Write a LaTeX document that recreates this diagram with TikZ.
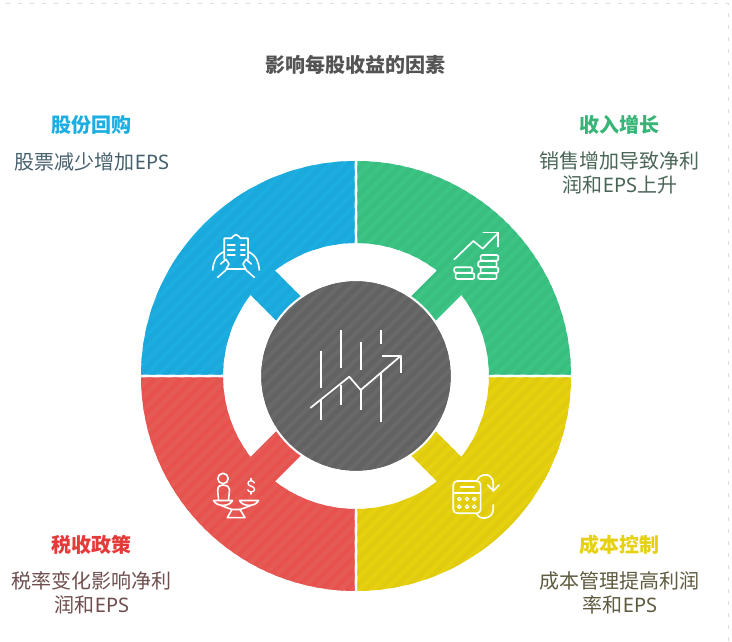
\documentclass[tikz,border=0pt]{standalone}
\usepackage{fontspec}
\setmainfont{Noto Sans CJK SC}
\newfontfamily\latn{Noto Sans}
\newcommand{\EPS}{{\latn EPS}}
\definecolor{cBlue}{HTML}{1CAEE0}\definecolor{cBlueS}{HTML}{1BA8DA}
\definecolor{cGreen}{HTML}{3BC483}\definecolor{cGreenS}{HTML}{39BE7F}
\definecolor{cYellow}{HTML}{E6D10F}\definecolor{cYellowS}{HTML}{E0CB0E}
\definecolor{cRed}{HTML}{E8524E}\definecolor{cRedS}{HTML}{E65A56}
\definecolor{cGrey}{HTML}{696969}\definecolor{cGreyS}{HTML}{626262}
\definecolor{tBlue}{HTML}{46606E}\definecolor{tGreen}{HTML}{4A6657}
\definecolor{tYellow}{HTML}{5F5B3F}\definecolor{tRed}{HTML}{704E4E}
\definecolor{hRedC}{HTML}{E53A38}\definecolor{hGreenC}{HTML}{36B577}
\newcommand{\stripes}[2]{%
  \fill[#1] (-300,-300) rectangle (300,300);
  \foreach \k in {-50,...,50}{
    \fill[#2] ({\k*13-400},-400) -- ({\k*13-393.5},-400) -- ({\k*13+406.5},400) -- ({\k*13+400},400) -- cycle;
  }}
% #1 rotation, #2 base, #3 stripe
\newcommand{\ringsector}[3]{%
  \begin{scope}[rotate=#1]
    \clip (1.3,133) -- (1.3,215) arc (89.65:0.35:215) -- (133,1.3)
      arc (0.56:{45-\na}:133) -- (\pbx,\pby) -- (\qbx,\qby) -- (\qax,\qay)
      arc ({45+\na}:89.44:133) -- cycle;
    \begin{scope}[rotate=-#1]\stripes{#2}{#3}\end{scope}
  \end{scope}}
\tikzset{
  titletext/.style={font=\fontsize{20}{24}\selectfont\bfseries,text=black!67,anchor=center,inner sep=0pt},
  headtext/.style={font=\fontsize{20}{24}\selectfont\bfseries,anchor=center,inner sep=0pt},
  desctext/.style={font=\fontsize{20}{24}\selectfont,anchor=center,align=center,inner sep=0pt},
  px/.style={x=1pt,y=-1pt,shift={(-356pt,376pt)}},
  ic/.style={draw=white,line width=1.6pt,line cap=round,line join=round},
  framedash/.style={draw=black!13,line width=0.9pt,dash pattern=on 4pt off 8pt}
}
\begin{document}
\begin{tikzpicture}[x=1pt,y=1pt]
\useasboundingbox (-356,-266) rectangle (376,376);
\fill[white] (-356,-266) rectangle (376,376);
\pgfmathsetmacro{\na}{asin(17.2/133)}
\pgfmathsetmacro{\pax}{133*cos(45-\na)}\pgfmathsetmacro{\pay}{133*sin(45-\na)}
\pgfmathsetmacro{\qax}{133*cos(45+\na)}\pgfmathsetmacro{\qay}{133*sin(45+\na)}
\pgfmathsetmacro{\pbx}{\pax-42}\pgfmathsetmacro{\pby}{\pay-42}
\pgfmathsetmacro{\qbx}{\qax-42}\pgfmathsetmacro{\qby}{\qay-42}
\ringsector{0}{cGreen}{cGreenS}
\ringsector{90}{cBlue}{cBlueS}
\ringsector{180}{cRed}{cRedS}
\ringsector{270}{cYellow}{cYellowS}
\begin{scope}
  \clip (0,0) circle (95);
  \stripes{cGrey}{cGreyS}
\end{scope}
\draw[white,line width=2pt] (0,0) circle (96);
\begin{scope}[px]
  % faint dashed page frame
  \draw[framedash] (6,3.5) -- (728.5,3.5) -- (728.5,642);
  % texts
  \node[titletext] (title) at (356,64.5) {影响每股收益的因素};
  \node[headtext,text=cBlue] (hBlue) at (92,124.5) {股份回购};
  \node[desctext,text=tBlue] (dBlue) at (92,161.5) {股票减少增加\EPS};
  \node[headtext,text=hGreenC] (hGreen) at (620,124.5) {收入增长};
  \node[desctext,text=tGreen] (dGreen) at (620,172.5) {销售增加导致净利\\润和\EPS{}上升};
  \node[headtext,text=cYellow] (hYellow) at (620,544.5) {成本控制};
  \node[desctext,text=tYellow] (dYellow) at (620,592.5) {成本管理提高利润\\率和\EPS};
  \node[headtext,text=hRedC] (hRed) at (92,544.5) {税收政策};
  \node[desctext,text=tRed] (dRed) at (92,592.5) {税率变化影响净利\\润和\EPS};
  % centre icon
  \draw[ic,line width=1.7pt,line cap=butt]
    (320.7,350.7)--(320.7,387.7) (320.7,399)--(320.7,420)
    (340.7,330)--(340.7,367.7) (340.7,385)--(340.7,405)
    (360.7,342.3)--(360.7,370) (360.7,390)--(360.7,410)
    (380.7,330)--(380.7,344.3) (380.7,373.3)--(380.7,421.7);
  \draw[ic,line width=1.7pt] (310.7,407.7)--(349.3,376.7)--(360.7,390)--(400.7,356);
  \draw[ic,line width=1.7pt,line cap=butt] (382.3,356)--(401,356)--(401,373.3);
  % blue icon
  \draw[ic] (224.3,259)--(224.3,238.3)--(231.5,238.3)
     .. controls (233,238) and (233,234.5) .. (236,234.5)
     .. controls (239,234.5) and (239,238) .. (240.5,238.3)
     --(248,238.3)--(248,259);
  \draw[ic] (226.7,269.3)--(245.3,269.3);
  \draw[ic,line width=1.3pt] (227.5,245)--(235,245) (227.5,250)--(235,250) (227.5,255)--(235,255)
     (240.7,245)--(245,245) (240.7,250)--(245,250) (240.7,255)--(245,255);
  \draw[ic] (212.7,270) .. controls (213.5,262) and (215,256) .. (224.3,251.5);
  \draw[ic] (220.7,264)--(226,259.3)--(229,264)--(225.5,270.5)--(217.7,277.3);
  \draw[ic] (259.3,270) .. controls (258.5,262) and (257,256) .. (248,251.5);
  \draw[ic] (251.3,264)--(246,259.3)--(243,264)--(246.5,270.5)--(254.3,277.3);
  % green icon
  \draw[ic] (454.3,259.3)--(473.3,241)--(482.7,248.7)--(498.3,233);
  \draw[ic] (483.3,232.7)--(498.3,232.7)--(498.3,246.7);
  \begin{scope}[rounded corners=1.2pt]
    \draw[ic] (454.3,267.3) rectangle (472.3,272.7);
    \draw[ic] (455.7,273.2) rectangle (474.3,279);
    \draw[ic] (480.7,255) rectangle (498.3,260.7);
    \draw[ic] (478.3,261.2) rectangle (496.7,267);
    \draw[ic] (480.7,267.4) rectangle (498.3,273);
    \draw[ic] (478.3,273.4) rectangle (496.7,279);
  \end{scope}
  % yellow icon
  \draw[ic,rounded corners=4pt] (453.3,481) rectangle (480.7,513.3);
  \draw[ic] (453.3,493.3)--(480.7,493.3);
  \draw[ic] (460.7,487.3)--(474,487.3);
  \foreach \bx in {459.3,467,474.3}{\foreach \by in {499,506.7}{
    \draw[ic,line width=1.2pt] (\bx,\by) circle (1.8pt);}}
  \draw[ic] (477.3,480) .. controls (480,473) and (493.3,472) .. (493.3,484)--(493.3,490.7);
  \draw[ic] (487.7,485)--(493.3,491)--(499,485);
  \draw[ic] (493.3,505)--(493.3,509) .. controls (493.3,519) and (480,521) .. (476.7,514);
  % red icon
  \draw[ic] (223,478.5) circle (5.2pt);
  \draw[ic] (218.5,499.5) .. controls (218.3,495) and (217.5,492) .. (217.7,490)
    .. controls (218,486) and (220,485) .. (223,485)
    .. controls (226,485) and (229,486) .. (229.5,490)
    .. controls (229.5,492) and (229,495) .. (228.5,499.5);
  \draw[ic] (213.5,500.5)--(232.5,500.5) .. controls (229.5,507) and (216.5,507) .. cycle;
  \draw[ic] (239.5,500.5)--(258.5,500.5) .. controls (255.5,507) and (242.5,507) .. cycle;
  \draw[ic] (222,506)--(232,509.5) (250,506)--(240,509.5);
  \draw[ic] (232,509.5)--(240,509.5)--(245,517.7)--(227.3,517.7)--cycle;
  \draw[ic,line width=1.4pt] (254.3,482.8) .. controls (253,480) and (248,480) .. (248,483.3)
     .. controls (248,487) and (254.6,485.5) .. (254.6,489.3)
     .. controls (254.6,492.6) and (248.5,492.6) .. (247.6,489.8);
  \draw[ic,line width=1.4pt] (251,478.5)--(251,480.6) (251,492)--(251,494);
\end{scope}
\end{tikzpicture}
\end{document}
